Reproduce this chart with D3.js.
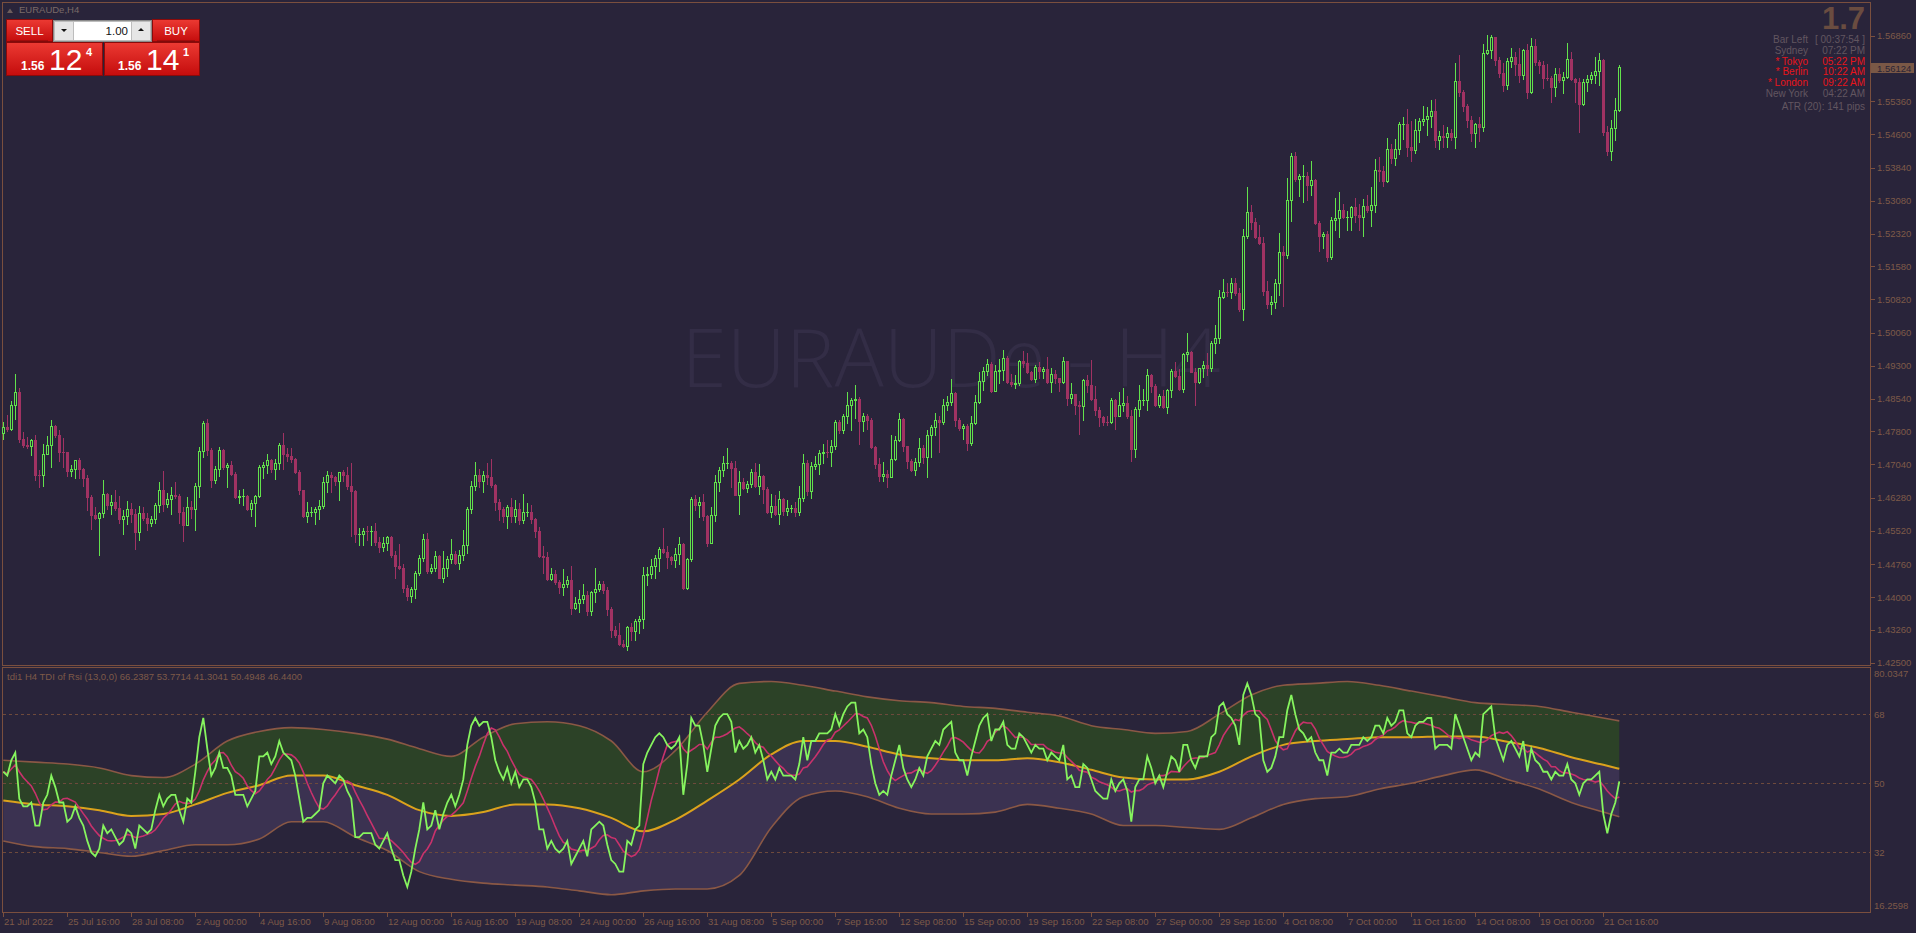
<!DOCTYPE html>
<html><head><meta charset="utf-8">
<script src="https://cdn.jsdelivr.net/npm/d3@7"></script>
<style>
html,body{margin:0;padding:0;background:#29243a;overflow:hidden}
svg{display:block}
text{font-family:"Liberation Sans",Arial,sans-serif}
</style></head>
<body>
<svg id="chart" width="1916" height="933"></svg>
<script>
// ---------------- DATA ----------------
const symbol = "EURAUDe,H4";
const watermark = "EURAUDe - H4";
const firstOpen = 1.4775;
const closes = [
1.4790,1.4786,1.4840,1.4869,1.4763,1.4749,1.4747,1.4759,1.4681,1.4680,
1.4729,1.4748,1.4792,1.4771,1.4733,1.4732,1.4690,1.4693,1.4714,1.4693,
1.4673,1.4630,1.4589,1.4581,1.4593,1.4636,1.4612,1.4617,1.4605,1.4580,
1.4586,1.4602,1.4591,1.4550,1.4592,1.4582,1.4571,1.4579,1.4611,1.4645,
1.4614,1.4626,1.4634,1.4632,1.4596,1.4566,1.4607,1.4603,1.4655,1.4735,
1.4800,1.4737,1.4669,1.4693,1.4737,1.4699,1.4703,1.4683,1.4629,1.4632,
1.4632,1.4603,1.4616,1.4631,1.4698,1.4702,1.4714,1.4694,1.4708,1.4748,
1.4729,1.4724,1.4716,1.4687,1.4645,1.4587,1.4594,1.4594,1.4603,1.4609,
1.4663,1.4679,1.4676,1.4665,1.4686,1.4681,1.4655,1.4643,1.4545,1.4545,
1.4552,1.4551,1.4551,1.4526,1.4514,1.4525,1.4538,1.4496,1.4472,1.4468,
1.4421,1.4402,1.4419,1.4456,1.4489,1.4533,1.4461,1.4466,1.4494,1.4445,
1.4466,1.4487,1.4498,1.4479,1.4497,1.4520,1.4601,1.4655,1.4679,1.4667,
1.4679,1.4675,1.4656,1.4619,1.4601,1.4585,1.4606,1.4585,1.4602,1.4576,
1.4594,1.4594,1.4580,1.4551,1.4495,1.4491,1.4442,1.4453,1.4434,1.4424,
1.4430,1.4439,1.4376,1.4387,1.4395,1.4405,1.4369,1.4412,1.4418,1.4430,
1.4417,1.4372,1.4325,1.4314,1.4292,1.4289,1.4331,1.4323,1.4346,1.4350,
1.4450,1.4453,1.4471,1.4490,1.4511,1.4504,1.4491,1.4485,1.4498,1.4522,
1.4421,1.4488,1.4624,1.4612,1.4617,1.4585,1.4525,1.4588,1.4663,1.4691,
1.4707,1.4707,1.4697,1.4634,1.4663,1.4649,1.4660,1.4686,1.4655,1.4678,
1.4647,1.4594,1.4610,1.4591,1.4624,1.4598,1.4604,1.4604,1.4594,1.4627,
1.4707,1.4643,1.4701,1.4705,1.4730,1.4733,1.4732,1.4747,1.4802,1.4782,
1.4816,1.4840,1.4851,1.4854,1.4803,1.4814,1.4806,1.4744,1.4704,1.4677,
1.4683,1.4675,1.4717,1.4761,1.4809,1.4746,1.4713,1.4692,1.4710,1.4741,
1.4722,1.4772,1.4790,1.4806,1.4801,1.4841,1.4847,1.4867,1.4805,1.4787,
1.4791,1.4753,1.4799,1.4847,1.4896,1.4918,1.4934,1.4873,1.4917,1.4921,
1.4947,1.4893,1.4888,1.4890,1.4941,1.4936,1.4915,1.4900,1.4927,1.4917,
1.4922,1.4892,1.4912,1.4902,1.4892,1.4941,1.4857,1.4865,1.4841,1.4837,
1.4898,1.4885,1.4854,1.4828,1.4812,1.4802,1.4801,1.4852,1.4816,1.4841,
1.4845,1.4816,1.4739,1.4832,1.4852,1.4852,1.4908,1.4883,1.4841,1.4860,
1.4835,1.4875,1.4918,1.4907,1.4877,1.4957,1.4961,1.4915,1.4894,1.4924,
1.4931,1.4926,1.4982,1.4993,1.5087,1.5100,1.5098,1.5119,1.5096,1.5060,
1.5227,1.5282,1.5260,1.5224,1.5211,1.5102,1.5071,1.5077,1.5119,1.5190,
1.5184,1.5309,1.5410,1.5358,1.5364,1.5365,1.5345,1.5355,1.5258,1.5228,
1.5231,1.5180,1.5263,1.5268,1.5286,1.5270,1.5270,1.5293,1.5275,1.5270,
1.5295,1.5286,1.5298,1.5378,1.5377,1.5354,1.5426,1.5407,1.5426,1.5483,
1.5483,1.5432,1.5424,1.5469,1.5490,1.5495,1.5501,1.5513,1.5448,1.5456,
1.5455,1.5463,1.5455,1.5582,1.5558,1.5524,1.5492,1.5463,1.5484,1.5476,
1.5646,1.5653,1.5683,1.5630,1.5600,1.5573,1.5628,1.5638,1.5621,1.5596,
1.5653,1.5556,1.5662,1.5625,1.5618,1.5590,1.5588,1.5569,1.5598,1.5585,
1.5592,1.5633,1.5586,1.5579,1.5529,1.5579,1.5587,1.5596,1.5605,1.5631,
1.5466,1.5422,1.5474,1.5516,1.5614];
const highs = [
1.4802,1.4817,1.4849,1.4912,1.4880,1.4778,1.4768,1.4762,1.4771,1.4691,
1.4751,1.4769,1.4806,1.4794,1.4783,1.4764,1.4733,1.4702,1.4714,1.4718,
1.4697,1.4680,1.4634,1.4606,1.4594,1.4668,1.4639,1.4634,1.4645,1.4632,
1.4600,1.4620,1.4615,1.4603,1.4609,1.4607,1.4592,1.4586,1.4615,1.4664,
1.4689,1.4638,1.4652,1.4664,1.4636,1.4607,1.4629,1.4620,1.4662,1.4743,
1.4803,1.4808,1.4741,1.4700,1.4743,1.4739,1.4708,1.4712,1.4687,1.4645,
1.4648,1.4634,1.4623,1.4634,1.4703,1.4709,1.4728,1.4716,1.4717,1.4753,
1.4776,1.4741,1.4741,1.4718,1.4691,1.4645,1.4617,1.4607,1.4607,1.4622,
1.4675,1.4690,1.4687,1.4677,1.4687,1.4691,1.4698,1.4707,1.4646,1.4558,
1.4558,1.4562,1.4562,1.4571,1.4538,1.4538,1.4541,1.4540,1.4506,1.4523,
1.4476,1.4428,1.4424,1.4459,1.4497,1.4545,1.4546,1.4476,1.4506,1.4497,
1.4506,1.4495,1.4533,1.4506,1.4508,1.4553,1.4607,1.4666,1.4709,1.4693,
1.4689,1.4707,1.4716,1.4659,1.4624,1.4607,1.4611,1.4628,1.4623,1.4615,
1.4636,1.4615,1.4611,1.4582,1.4560,1.4517,1.4503,1.4466,1.4463,1.4440,
1.4464,1.4449,1.4472,1.4400,1.4417,1.4430,1.4415,1.4415,1.4466,1.4436,
1.4438,1.4424,1.4377,1.4334,1.4340,1.4302,1.4334,1.4340,1.4350,1.4357,
1.4469,1.4469,1.4488,1.4497,1.4516,1.4558,1.4517,1.4495,1.4512,1.4537,
1.4525,1.4489,1.4630,1.4634,1.4629,1.4637,1.4588,1.4606,1.4680,1.4699,
1.4723,1.4741,1.4712,1.4713,1.4690,1.4672,1.4665,1.4694,1.4707,1.4704,
1.4680,1.4653,1.4636,1.4634,1.4643,1.4627,1.4623,1.4611,1.4617,1.4655,
1.4727,1.4714,1.4709,1.4724,1.4738,1.4752,1.4761,1.4759,1.4805,1.4805,
1.4820,1.4871,1.4856,1.4885,1.4859,1.4821,1.4820,1.4811,1.4747,1.4719,
1.4709,1.4692,1.4772,1.4769,1.4823,1.4810,1.4747,1.4716,1.4719,1.4764,
1.4749,1.4783,1.4795,1.4823,1.4816,1.4854,1.4860,1.4899,1.4869,1.4810,
1.4797,1.4797,1.4816,1.4864,1.4915,1.4928,1.4945,1.4938,1.4932,1.4945,
1.4966,1.4953,1.4912,1.4909,1.4944,1.4964,1.4960,1.4917,1.4932,1.4938,
1.4928,1.4950,1.4925,1.4921,1.4902,1.4951,1.4941,1.4890,1.4860,1.4849,
1.4899,1.4909,1.4944,1.4884,1.4835,1.4816,1.4814,1.4856,1.4854,1.4871,
1.4879,1.4861,1.4829,1.4835,1.4886,1.4876,1.4922,1.4912,1.4889,1.4866,
1.4875,1.4876,1.4922,1.4938,1.4922,1.4960,1.5005,1.4963,1.4925,1.4926,
1.4940,1.4960,1.4986,1.5024,1.5104,1.5128,1.5119,1.5131,1.5131,1.5108,
1.5244,1.5339,1.5298,1.5268,1.5253,1.5225,1.5125,1.5090,1.5128,1.5234,
1.5205,1.5360,1.5418,1.5420,1.5369,1.5390,1.5374,1.5399,1.5358,1.5262,
1.5237,1.5239,1.5270,1.5315,1.5328,1.5300,1.5285,1.5296,1.5315,1.5300,
1.5312,1.5321,1.5339,1.5403,1.5408,1.5388,1.5451,1.5438,1.5450,1.5489,
1.5499,1.5518,1.5491,1.5495,1.5497,1.5525,1.5522,1.5539,1.5541,1.5468,
1.5482,1.5478,1.5472,1.5624,1.5642,1.5562,1.5530,1.5501,1.5486,1.5499,
1.5667,1.5688,1.5688,1.5683,1.5637,1.5624,1.5634,1.5657,1.5648,1.5657,
1.5656,1.5667,1.5680,1.5679,1.5630,1.5627,1.5621,1.5594,1.5611,1.5613,
1.5602,1.5669,1.5648,1.5590,1.5588,1.5587,1.5596,1.5604,1.5637,1.5646,
1.5632,1.5479,1.5493,1.5543,1.5619];
const lows = [
1.4762,1.4781,1.4783,1.4809,1.4756,1.4743,1.4741,1.4726,1.4668,1.4653,
1.4655,1.4728,1.4699,1.4767,1.4713,1.4699,1.4678,1.4678,1.4672,1.4672,
1.4655,1.4600,1.4556,1.4580,1.4497,1.4583,1.4603,1.4590,1.4600,1.4571,
1.4545,1.4568,1.4573,1.4510,1.4531,1.4577,1.4554,1.4562,1.4569,1.4594,
1.4598,1.4607,1.4591,1.4628,1.4570,1.4529,1.4566,1.4581,1.4555,1.4630,
1.4722,1.4726,1.4653,1.4662,1.4678,1.4693,1.4653,1.4679,1.4627,1.4616,
1.4611,1.4600,1.4587,1.4562,1.4630,1.4674,1.4685,1.4687,1.4671,1.4694,
1.4694,1.4713,1.4710,1.4685,1.4636,1.4584,1.4573,1.4587,1.4568,1.4579,
1.4605,1.4640,1.4640,1.4658,1.4622,1.4667,1.4647,1.4541,1.4527,1.4520,
1.4520,1.4531,1.4520,1.4519,1.4504,1.4506,1.4509,1.4491,1.4445,1.4464,
1.4413,1.4394,1.4390,1.4398,1.4451,1.4482,1.4455,1.4456,1.4459,1.4443,
1.4434,1.4449,1.4479,1.4476,1.4464,1.4485,1.4501,1.4592,1.4646,1.4653,
1.4642,1.4659,1.4653,1.4600,1.4577,1.4573,1.4559,1.4573,1.4573,1.4567,
1.4571,1.4587,1.4571,1.4537,1.4493,1.4456,1.4440,1.4440,1.4430,1.4409,
1.4405,1.4424,1.4362,1.4372,1.4367,1.4386,1.4360,1.4360,1.4390,1.4415,
1.4409,1.4360,1.4310,1.4308,1.4291,1.4287,1.4279,1.4302,1.4302,1.4318,
1.4329,1.4428,1.4443,1.4443,1.4461,1.4501,1.4468,1.4476,1.4470,1.4476,
1.4419,1.4418,1.4482,1.4600,1.4583,1.4577,1.4518,1.4525,1.4575,1.4644,
1.4678,1.4695,1.4653,1.4633,1.4590,1.4647,1.4640,1.4653,1.4653,1.4636,
1.4615,1.4592,1.4583,1.4588,1.4567,1.4588,1.4588,1.4596,1.4585,1.4588,
1.4621,1.4634,1.4627,1.4694,1.4683,1.4708,1.4721,1.4700,1.4740,1.4776,
1.4776,1.4799,1.4784,1.4811,1.4750,1.4780,1.4785,1.4742,1.4697,1.4667,
1.4667,1.4652,1.4675,1.4715,1.4757,1.4734,1.4696,1.4688,1.4680,1.4701,
1.4707,1.4675,1.4722,1.4771,1.4732,1.4796,1.4829,1.4841,1.4791,1.4783,
1.4762,1.4736,1.4749,1.4797,1.4845,1.4875,1.4909,1.4871,1.4873,1.4890,
1.4898,1.4890,1.4883,1.4879,1.4886,1.4928,1.4913,1.4898,1.4894,1.4902,
1.4902,1.4890,1.4871,1.4890,1.4873,1.4890,1.4841,1.4845,1.4820,1.4774,
1.4805,1.4871,1.4852,1.4818,1.4793,1.4795,1.4795,1.4799,1.4785,1.4816,
1.4826,1.4810,1.4711,1.4721,1.4814,1.4841,1.4829,1.4871,1.4837,1.4835,
1.4833,1.4823,1.4858,1.4904,1.4875,1.4869,1.4942,1.4915,1.4841,1.4890,
1.4904,1.4909,1.4917,1.4959,1.4982,1.5085,1.5089,1.5086,1.5092,1.5056,
1.5035,1.5222,1.5244,1.5222,1.5209,1.5091,1.5063,1.5049,1.5062,1.5091,
1.5068,1.5176,1.5262,1.5354,1.5320,1.5306,1.5310,1.5321,1.5254,1.5192,
1.5199,1.5169,1.5175,1.5240,1.5225,1.5268,1.5240,1.5240,1.5260,1.5241,
1.5228,1.5283,1.5250,1.5283,1.5354,1.5342,1.5352,1.5395,1.5390,1.5415,
1.5450,1.5411,1.5398,1.5418,1.5442,1.5482,1.5459,1.5478,1.5430,1.5427,
1.5432,1.5432,1.5447,1.5428,1.5549,1.5514,1.5478,1.5444,1.5432,1.5444,
1.5468,1.5644,1.5634,1.5619,1.5592,1.5560,1.5564,1.5615,1.5596,1.5581,
1.5587,1.5544,1.5554,1.5618,1.5600,1.5567,1.5585,1.5535,1.5547,1.5581,
1.5554,1.5588,1.5585,1.5535,1.5465,1.5527,1.5560,1.5577,1.5577,1.5573,
1.5459,1.5413,1.5402,1.5447,1.5514];

// TDI: RSI price line (green) and trade signal (red), one value per bar
const tdiPrice = [
53,52,56,58,46,44,44,45,39,39, 45,47,52,49,45,45,40,41,44,41, 39,35,32,31,33,39,37,38,36,34,
35,38,37,33,39,38,37,38,43,47, 44,46,47,47,43,40,46,45,53,62, 67,59,52,54,58,54,54,52,47,47,
47,44,46,48,57,57,58,55,57,61, 58,57,56,52,46,40,41,41,42,43, 50,52,51,50,52,51,48,46,36,36,
37,37,37,34,33,35,37,33,30,30, 26,23,27,33,38,45,38,39,43,38, 42,45,47,44,47,51,60,65,67,65,
66,66,62,56,53,51,54,50,53,49, 51,51,49,45,38,38,33,35,33,32, 33,35,29,31,33,35,31,38,39,40,
39,34,30,29,27,27,35,34,38,39, 55,58,60,62,63,62,60,59,60,62, 47,55,67,65,65,60,53,59,65,67,
68,68,66,58,61,59,60,62,58,60, 56,51,53,51,54,52,52,52,51,55, 62,56,61,61,63,63,63,64,68,65,
68,70,71,71,63,64,62,55,50,47, 48,47,52,56,60,54,51,49,51,54, 52,57,59,61,60,64,65,66,58,56,
56,52,57,61,65,67,68,61,64,64, 66,60,59,59,63,62,60,58,60,59, 59,56,58,57,56,60,51,52,49,49,
55,54,51,48,47,46,46,51,48,50, 51,48,40,49,51,51,57,54,50,52, 49,53,57,56,53,60,60,56,54,57,
57,57,62,63,70,71,68,67,65,60, 73,76,73,68,67,56,53,54,57,62, 62,69,73,68,64,63,61,62,58,56,
56,52,58,58,59,58,58,60,60,60, 62,61,62,65,65,63,67,65,66,69, 69,63,62,65,66,66,67,67,59,60,
60,60,59,68,65,62,59,56,58,57, 68,69,70,62,59,56,60,61,59,57, 61,53,59,56,55,53,53,51,53,52,
52,55,51,50,47,50,51,51,52,53, 42,37,42,45,50.49];
const tdiSignal = [
53,52.5,53.7,54.8,53,51.5,50.4,49.3,47.4,45, 43.1,43.3,44.4,45.1,45.1,46,46.1,45.6,45.1,43.6,
42.1,40.7,38.9,37.6,36.4,35.7,35.1,35,35.1,35.4, 36,36.7,36.4,35.9,36,36.3,36.7,37.1,37.9,39.3,
40.9,41.9,43.1,44.6,45.3,44.9,44.7,44.9,45.9,48, 50.9,53.1,54.9,56,57.9,58,56.9,54.7,53,52.3,
51.3,49.3,48.1,47.3,48,49.4,51,52.1,54,56.1, 57.6,57.6,57.4,56.6,55.3,52.9,50,47.6,45.4,43.6,
43.3,44.1,45.7,47,48.6,49.9,50.6,50,47.7,45.6, 43.7,41.6,39.6,37.6,35.7,35.6,35.7,35.1,34.1,33.1,
32,30.6,29.4,28.9,29.6,31.7,32.9,34.7,37.6,39.1, 40.4,41.4,41.7,42.6,43.7,44.9,48,51.3,54.4,57,
60.1,62.9,64.4,63.9,62.1,59.9,58.3,56,54.1,52.3, 51.6,51.3,51,49.7,48,45.9,43.6,41.3,38.7,36.3,
34.6,34.1,32.9,32.6,32.3,32.6,32.4,33.1,33.7,35.3, 36.4,36.6,35.9,35.6,34,32.3,31.6,30.9,31.4,32.7,
36.4,40.9,45.6,49.4,53.6,57,60,60.6,60.9,61.1, 59,57.9,58.6,59.3,60.1,60.1,58.9,60.6,62,62,
62.4,62.9,63.7,64.4,64.7,63.9,62.9,62,60.6,59.7, 59.4,58,57.1,55.9,54.7,53.9,52.7,52.1,52.1,52.4,
54,54.3,55.6,56.9,58.4,60.1,61.3,61.6,63.3,63.9, 64.9,65.9,67,68.1,68,67.4,67,65.1,62.3,58.9,
55.6,53.3,51.6,50.7,51.4,52,52.6,52.7,53.3,53.6, 53,52.6,53.3,54.7,56.3,58.1,59.7,61.7,61.9,61.4,
60.7,59.6,58.6,58,57.9,59.1,60.9,61.6,63.3,64.3, 65,64.3,63.1,61.9,62.1,61.9,61.3,60.1,60.1,60.1,
60.1,59.1,58.6,58.1,57.9,57.9,56.7,55.7,54.7,53.4, 53.1,52.9,51.6,51.1,50.4,50,49.6,49,48.1,48,
48.4,48.6,47.7,48.1,48.1,48.6,49.6,50,50.3,52, 52,52.3,53.1,53,52.9,54.3,55.4,56.4,56.6,56.6,
56.7,57.3,57.6,58,60,62.4,64,65.4,66.6,66.3, 67.7,68.6,68.9,68.9,68.9,67.6,66.6,63.9,61.1,59.6,
58.7,59,61.4,63.6,65,65.9,65.7,65.7,64.1,61.7, 60,58.3,57.6,57.1,56.7,56.7,57,57.6,58.7,59,
59.6,59.9,60.4,61.4,62.1,62.6,63.6,64,64.7,65.7, 66.3,66,65.9,65.6,65.7,65.7,65.4,65.1,64.6,64.3,
63.6,62.7,61.7,61.9,61.6,62,61.9,61.3,61,60.7, 60.7,61.3,62.4,62.9,63.3,63,63.4,62.4,61,59.1,
59,58.1,58.6,58,57.1,56.3,55.7,54.3,54.3,53.3, 52.7,52.7,52.4,52,51.4,51,50.9,50.7,50.3,50.6,
49.4,48,46.9,46,46.44];
// TDI market base (yellow) and volatility bands, read every 8 bars (last point = last bar)
const tdiBandBars = [0,8,16,24,32,40,48,56,64,72,80,88,96,104,112,120,128,136,144,152,160,168,176,184,192,200,
 208,216,224,232,240,248,256,264,272,280,288,296,304,312,320,328,336,344,352,360,368,376,384,392,400,404];
const tdiBase = [45.5,44.5,44,43,41.5,42,44.5,47.5,49.5,52, 52,49.5,47,43,41.5,42.5,44.5,44.5,43.5,41,
 37.5,40.5,45.5,51,57.5,61,61,59.5,57.5,56.5, 56,56,56.5,55.5,53.5,51.5,51,51,53,57,
 60,61,61.5,62,62,62.2,62.2,60.8,59.2,56.8, 54.8,53.7714];
const tdiUpper = [56,55.5,55,54,52,51.5,55,61,63.5,64.5, 64,63,61.5,59,57,62,65.5,66,65,61,
 53,58.5,68.5,76,76.5,75.5,74,72.5,71.5,71, 70,69.5,68.5,67.5,65,64,63,63.5,68,73,
 75.5,76,76.5,75.5,74,72.5,71,70.5,70,68.5, 67,66.2387];
const tdiLower = [35,33.5,33,32,31,32.5,34,34,35.5,40, 40,36,32.5,27,25,24,23.5,23,22,21,
 22,22.5,22.5,26,38.5,46.5,48,46.5,43.5,42, 42,42.5,44.5,43.5,42,39,39,38.5,38,41,
 44.5,46,46.5,48.5,50,52,53.5,51,48.5,45, 42.5,41.3041];

const timeLabels = ["21 Jul 2022","25 Jul 16:00","28 Jul 08:00","2 Aug 00:00","4 Aug 16:00","9 Aug 08:00",
 "12 Aug 00:00","16 Aug 16:00","19 Aug 08:00","24 Aug 00:00","26 Aug 16:00","31 Aug 08:00","5 Sep 00:00",
 "7 Sep 16:00","12 Sep 08:00","15 Sep 00:00","19 Sep 16:00","22 Sep 08:00","27 Sep 00:00","29 Sep 16:00",
 "4 Oct 08:00","7 Oct 00:00","11 Oct 16:00","14 Oct 08:00","19 Oct 00:00","21 Oct 16:00"];
const labelEvery = 16; // bars between time labels
const priceTicks = [1.56860,1.55360,1.54600,1.53840,1.53080,1.52320,1.51580,1.50820,1.50060,1.49300,
 1.48540,1.47800,1.47040,1.46280,1.45520,1.44760,1.44000,1.43260,1.42500];
const currentPrice = 1.56124;
const tdiLevels = [68, 50, 32];
const tdiRange = [16.2598, 80.0347];
const tdiHeader = "tdi1 H4 TDI of Rsi (13,0,0) 66.2387 53.7714 41.3041 50.4948 46.4400";
const infoRows = [["Bar Left","[ 00:37:54 ]",false],["Sydney","07:22 PM",false],["* Tokyo","05:22 PM",true],
 ["* Berlin","10:22 AM",true],["* London","09:22 AM",true],["New York","04:22 AM",false]];
const atrText = "ATR (20): 141 pips";
const spreadText = "1.7";
const lotText = "1.00";
const sellQuote = ["1.56","12","4"], buyQuote = ["1.56","14","1"];

// ---------------- STYLE ----------------
const BG="#29243a", AX="#7a4f3e", TX="#7e5a48", GREEN="#62e24c", PINK="#a03262";
const svg = d3.select("#chart");
svg.append("rect").attr("width",1916).attr("height",933).attr("fill",BG);

// scales
const nBars = closes.length;
const x = d3.scaleLinear().domain([0, nBars-1]).range([3.3, 3.3 + 4*(nBars-1)]);
const y = d3.scaleLinear().domain([1.42500, 1.56860]).range([662.7, 35.7]);
const yt = d3.scaleLinear().domain(tdiRange).range([912.9, 667.9]);

// watermark
svg.append("text").attr("x",951).attr("y",387).attr("text-anchor","middle")
  .attr("font-size",82).attr("font-weight",300).attr("fill","#332d46")
  .style("font-family","'Open Sans','Noto Sans',sans-serif").text(watermark);

// ---------- TDI panel ----------
const defs = svg.append("defs");
defs.append("clipPath").attr("id","tdiClip").append("rect").attr("x",3).attr("y",668).attr("width",1867).attr("height",244);
const tp0 = svg.append("g").attr("clip-path","url(#tdiClip)");
const bandPts = tdiBandBars.map((b,k)=>({b, base:tdiBase[k], up:tdiUpper[k], lo:tdiLower[k]}));
tp0.append("path").datum(bandPts).attr("fill","#2c4227")
  .attr("d", d3.area().x(d=>x(d.b)).y0(d=>yt(d.base)).y1(d=>yt(d.up)).curve(d3.curveMonotoneX));
tp0.append("path").datum(bandPts).attr("fill","#3b3251")
  .attr("d", d3.area().x(d=>x(d.b)).y0(d=>yt(d.lo)).y1(d=>yt(d.base)).curve(d3.curveMonotoneX));
tp0.selectAll("line.lvl").data(tdiLevels).join("line").attr("class","lvl")
  .attr("x1",3).attr("x2",1870).attr("y1",d=>Math.round(yt(d))+.5).attr("y2",d=>Math.round(yt(d))+.5)
  .attr("stroke","#6e4a3c").attr("stroke-dasharray","3,3");
const bandLine = key => d3.line().x(d=>x(d.b)).y(d=>yt(d[key])).curve(d3.curveMonotoneX);
tp0.append("path").datum(bandPts).attr("fill","none").attr("stroke","#8a5845").attr("stroke-width",1.6).attr("d",bandLine("up"));
tp0.append("path").datum(bandPts).attr("fill","none").attr("stroke","#8a5845").attr("stroke-width",1.6).attr("d",bandLine("lo"));
tp0.append("path").datum(bandPts).attr("fill","none").attr("stroke","#dba21c").attr("stroke-width",2).attr("d",bandLine("base"));
const barLine = d3.line().x((d,i)=>x(i)).y(d=>yt(d));
tp0.append("path").datum(tdiSignal).attr("fill","none").attr("stroke","#c8326c").attr("stroke-width",1.6).attr("d",barLine);
tp0.append("path").datum(tdiPrice).attr("fill","none").attr("stroke","#86f45e").attr("stroke-width",1.8).attr("d",barLine);

// frames
const fr = svg.append("g").attr("fill","none").attr("stroke",AX).attr("stroke-width",1);
fr.append("rect").attr("x",2.5).attr("y",2.5).attr("width",1868).attr("height",663);
fr.append("rect").attr("x",2.5).attr("y",667.5).attr("width",1868).attr("height",245);

// price axis
const pa = svg.append("g");
pa.selectAll("line").data(priceTicks).join("line")
  .attr("x1",1871).attr("x2",1875).attr("y1",d=>Math.round(y(d))+.5).attr("y2",d=>Math.round(y(d))+.5)
  .attr("stroke",AX);
pa.selectAll("text").data(priceTicks).join("text")
  .attr("x",1877).attr("y",d=>y(d)+3.5).attr("font-size",9.5).attr("fill",TX)
  .text(d=>d.toFixed(5));
const cpY = Math.round(y(currentPrice));
svg.append("rect").attr("x",1871).attr("y",cpY-5).attr("width",43).attr("height",10).attr("fill","#7a5846");
svg.append("text").attr("x",1877).attr("y",cpY+3.5).attr("font-size",9.5).attr("fill","#2a2436").text(currentPrice.toFixed(5));

// time axis
const ta = svg.append("g");
ta.selectAll("line").data(timeLabels).join("line")
  .attr("x1",(d,i)=>Math.round(x(i*labelEvery))+.5).attr("x2",(d,i)=>Math.round(x(i*labelEvery))+.5)
  .attr("y1",913).attr("y2",917).attr("stroke",AX);
ta.selectAll("text").data(timeLabels).join("text")
  .attr("x",(d,i)=>Math.round(x(i*labelEvery))+1).attr("y",925).attr("font-size",9.5).attr("fill",TX)
  .text(d=>d);

// candles
const bars = closes.map((c,i)=>{
  const o = i ? closes[i-1] : firstOpen;
  return {i, o, c, h: Math.max(highs[i], o, c), l: Math.min(lows[i], o, c)};
});
const cg = svg.append("g");
cg.selectAll("line").data(bars).join("line")
  .attr("x1",d=>Math.round(x(d.i))+.5).attr("x2",d=>Math.round(x(d.i))+.5)
  .attr("y1",d=>Math.round(y(d.h))).attr("y2",d=>Math.round(y(d.l))+1)
  .attr("stroke",d=>d.c>=d.o?GREEN:PINK);
cg.selectAll("rect").data(bars).join("rect")
  .each(function(d){
    const s = d3.select(this), cx = Math.round(x(d.i));
    const top = Math.round(y(Math.max(d.o,d.c))), bot = Math.round(y(Math.min(d.o,d.c)));
    if (bot - top < 2) {
      s.attr("x",cx-1).attr("y",top).attr("width",3).attr("height",Math.max(1,bot-top+1)).attr("fill",d.c>=d.o?GREEN:PINK);
    } else if (d.c >= d.o) {
      s.attr("x",cx-.5).attr("y",top+.5).attr("width",2).attr("height",bot-top).attr("fill",BG).attr("stroke",GREEN);
    } else {
      s.attr("x",cx-1).attr("y",top).attr("width",3).attr("height",bot-top+1).attr("fill",PINK);
    }
  });

// TDI labels
const tg = svg.append("g");
const tdiLabels = [tdiRange[1].toFixed(4), ...tdiLevels.map(String), tdiRange[0].toFixed(4)];
const tdiLabelVals = [tdiRange[1], ...tdiLevels, tdiRange[0]];
tg.selectAll("text").data(tdiLabels).join("text")
  .attr("x",1874).attr("y",(d,i)=> i===0 ? 677 : i===tdiLabels.length-1 ? 909 : yt(tdiLabelVals[i])+3.5)
  .attr("font-size",9.5).attr("fill",TX).text(d=>d);
svg.append("text").attr("x",7).attr("y",680).attr("font-size",9.5).attr("fill",TX).text(tdiHeader);

// title
svg.append("path").attr("d","M7,13 L10,8.5 L13,13 Z").attr("fill","#6d5d5c");
svg.append("text").attr("x",19).attr("y",12.5).attr("font-size",9.5).attr("fill","#7a6a68").text(symbol);

// trade panel
const gr = defs.append("linearGradient").attr("id","red").attr("x1",0).attr("y1",0).attr("x2",0).attr("y2",1);
gr.append("stop").attr("offset","0%").attr("stop-color","#ec3a33");
gr.append("stop").attr("offset","100%").attr("stop-color","#c40c0c");
const tp = svg.append("g");
tp.append("rect").attr("x",6.5).attr("y",19.5).attr("width",46).attr("height",22).attr("fill","url(#red)").attr("stroke","#8a0a0a");
tp.append("rect").attr("x",152.5).attr("y",19.5).attr("width",47).attr("height",22).attr("fill","url(#red)").attr("stroke","#8a0a0a");
tp.append("line").attr("x1",10).attr("x2",48).attr("y1",41).attr("y2",41).attr("stroke","#7a0a0a");
tp.append("line").attr("x1",157).attr("x2",195).attr("y1",41).attr("y2",41).attr("stroke","#7a0a0a");
tp.append("text").attr("x",29.5).attr("y",34.5).attr("text-anchor","middle").attr("font-size",11.5).attr("fill","#fff").text("SELL");
tp.append("text").attr("x",176).attr("y",34.5).attr("text-anchor","middle").attr("font-size",11.5).attr("fill","#fff").text("BUY");
tp.append("rect").attr("x",53.5).attr("y",20.5).attr("width",98).attr("height",21).attr("fill","#bdbdbd").attr("stroke","#8a8a8a");
tp.append("rect").attr("x",55).attr("y",22).attr("width",18).attr("height",18).attr("fill","#e6e6e6");
tp.append("rect").attr("x",74).attr("y",22).attr("width",57).attr("height",18).attr("fill","#ffffff");
tp.append("rect").attr("x",132).attr("y",22).attr("width",18).attr("height",18).attr("fill","#e6e6e6");
tp.append("path").attr("d","M61,29 L67,29 L64,32 Z").attr("fill","#111");
tp.append("path").attr("d","M138,31 L144,31 L141,28 Z").attr("fill","#111");
tp.append("text").attr("x",128).attr("y",35).attr("text-anchor","end").attr("font-size",11.5).attr("fill","#111").text(lotText);
tp.append("rect").attr("x",6.5).attr("y",42.5).attr("width",96).attr("height",33).attr("fill","url(#red)").attr("stroke","#8a0a0a");
tp.append("rect").attr("x",104.5).attr("y",42.5).attr("width",95).attr("height",33).attr("fill","url(#red)").attr("stroke","#8a0a0a");
function quote(q, x0){
  tp.append("text").attr("x",x0).attr("y",70).attr("font-size",12).attr("font-weight","bold").attr("fill","#fff").text(q[0]);
  tp.append("text").attr("x",x0+28).attr("y",70).attr("font-size",30).attr("fill","#fff").text(q[1]);
  tp.append("text").attr("x",x0+65).attr("y",56).attr("font-size",11).attr("font-weight","bold").attr("fill","#fff").text(q[2]);
}
quote(sellQuote, 21); quote(buyQuote, 118);

// info block top right
const ib = svg.append("g");
ib.append("text").attr("x",1865).attr("y",29).attr("text-anchor","end").attr("font-size",31).attr("font-weight","bold").attr("fill","#6a4c40").text(spreadText);
infoRows.forEach((r,i)=>{
  const yy = 43 + i*10.8;
  const col = r[2] ? "#e8141a" : "#625660";
  ib.append("text").attr("x",1808).attr("y",yy).attr("text-anchor","end").attr("font-size",10).attr("fill",col).text(r[0]);
  ib.append("text").attr("x",1865).attr("y",yy).attr("text-anchor","end").attr("font-size",10).attr("fill",col).text(r[1]);
});
ib.append("text").attr("x",1865).attr("y",109.5).attr("text-anchor","end").attr("font-size",10).attr("fill","#625660").text(atrText);
</script>
</body></html>
